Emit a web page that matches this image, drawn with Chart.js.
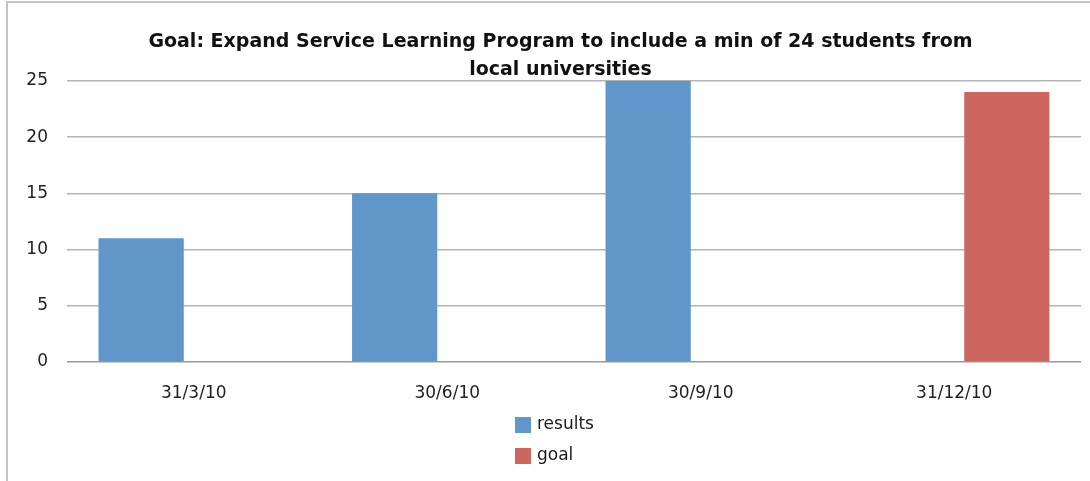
<!DOCTYPE html>
<html>
<head>
<meta charset="utf-8">
<script src="https://cdn.jsdelivr.net/npm/chart.js@4/dist/chart.umd.min.js"></script>
<style>
  html, body { margin: 0; padding: 0; background: #fff; }
  #wrap { width: 1090px; height: 481px; position: relative; }
</style>
</head>
<body>
<div id="wrap"><canvas id="goalChart" width="1090" height="481"></canvas></div>
<script>
var titleLines = ['Goal: Expand Service Learning Program to include a min of 24 students from', 'local universities'];
var labels = ['31/3/10', '30/6/10', '30/9/10', '31/12/10'];
var results = [11, 15, 25, null];
var goal = [null, null, null, 24];
var yTicks = [0, 5, 10, 15, 20, 25];

var blue = '#6096ca', red = '#cd665f';
var font = "'DejaVu Sans', Verdana, sans-serif";

// outer frame (left + top edges only, like the original)
var framePlugin = {
  id: 'frame',
  afterLayout: function(chart) {
    // title sits a bit right of the canvas centre in the original
    if (chart.titleBlock) {
      chart.titleBlock.left += 20;
      chart.titleBlock.right += 20;
    }
  },
  beforeDraw: function(chart) {
    var ctx = chart.ctx;
    ctx.save();
    ctx.fillStyle = '#fff';
    ctx.fillRect(0, 0, chart.width, chart.height);
    ctx.strokeStyle = '#c4c4c4';
    ctx.lineWidth = 2;
    ctx.beginPath();
    ctx.moveTo(7, chart.height);
    ctx.lineTo(7, 2);
    ctx.lineTo(chart.width, 2);
    ctx.stroke();
    ctx.restore();
  }
};

// stacked legend under the axis
var legendPlugin = {
  id: 'stackedLegend',
  afterDraw: function(chart) {
    var ctx = chart.ctx;
    ctx.save();
    ctx.font = '17px ' + font;
    ctx.textBaseline = 'middle';
    chart.data.datasets.forEach(function(ds, i) {
      var y = 417 + i * 31;
      ctx.fillStyle = ds.backgroundColor;
      ctx.fillRect(515, y, 16, 16);
      ctx.fillStyle = '#1a1a1a';
      ctx.fillText(ds.label, 537, y + 8);
    });
    ctx.restore();
  }
};

var ctx = document.getElementById('goalChart').getContext('2d');
new Chart(ctx, {
  type: 'bar',
  data: {
    labels: labels,
    datasets: [
      { label: 'results', data: results, backgroundColor: blue, categoryPercentage: 0.83, barPercentage: 0.81 },
      { label: 'goal', data: goal, backgroundColor: red, categoryPercentage: 0.83, barPercentage: 0.81 }
    ]
  },
  options: {
    responsive: false,
    animation: false,
    layout: { padding: { left: 0, right: 9, top: 0, bottom: 69 } },
    plugins: {
      legend: { display: false },
      tooltip: { enabled: false },
      title: {
        display: true,
        text: titleLines,
        color: '#111',
        font: { family: font, size: 19, weight: 'bold', lineHeight: 1.47 },
        padding: { top: 28, bottom: -3 }
      }
    },
    scales: {
      x: {
        grid: { display: false },
        border: { display: false },
        ticks: { color: '#222', font: { family: font, size: 17 }, padding: 13 },
        afterFit: function(s) { s.height = 50; }
      },
      y: {
        min: 0,
        max: 25,
        afterBuildTicks: function(s) { s.ticks = yTicks.map(function(v) { return { value: v }; }); },
        grid: {
          drawTicks: false,
          lineWidth: 1.5,
          color: function(c) { return c.tick.value === 0 ? '#999' : '#b4b4b4'; }
        },
        border: { display: false },
        ticks: { color: '#222', font: { family: font, size: 17 }, padding: 19 },
        afterFit: function(s) { s.width = 67; }
      }
    }
  },
  plugins: [framePlugin, legendPlugin]
});
</script>
</body>
</html>
